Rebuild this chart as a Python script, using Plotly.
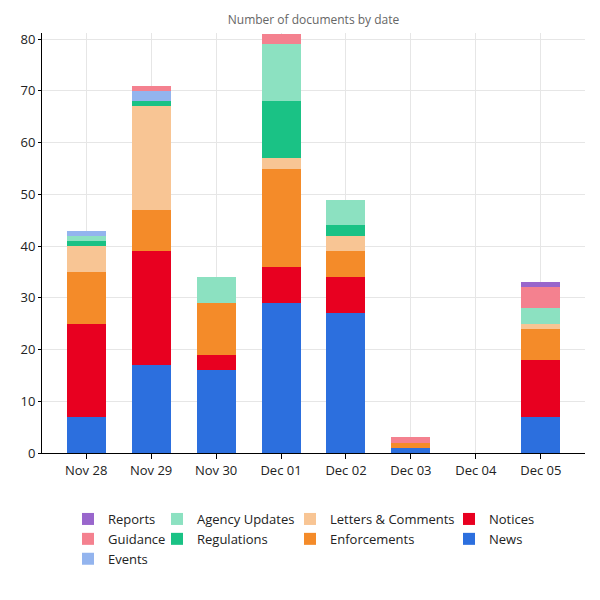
import plotly.graph_objects as go

dates = ["Nov 28", "Nov 29", "Nov 30", "Dec 01", "Dec 02", "Dec 03", "Dec 04", "Dec 05"]

news = [7, 17, 16, 29, 27, 1, 0, 7]
notices = [18, 22, 3, 7, 7, 0, 0, 11]
enforcements = [10, 8, 10, 19, 5, 1, 0, 6]
letters = [5, 20, 0, 2, 3, 0, 0, 1]
regulations = [1, 1, 0, 11, 2, 0, 0, 0]
agency_updates = [1, 0, 5, 11, 5, 0, 0, 3]
events = [1, 2, 0, 0, 0, 0, 0, 0]
guidance = [0, 1, 0, 2, 0, 1, 0, 4]
reports = [0, 0, 0, 0, 0, 0, 0, 1]

# (name, values, colour, legend column, rank in column)
series = [
    ("News", news, "#2C6FDE", "legend4", 2),
    ("Notices", notices, "#E80020", "legend4", 1),
    ("Enforcements", enforcements, "#F48B29", "legend3", 2),
    ("Letters & Comments", letters, "#F8C594", "legend3", 1),
    ("Regulations", regulations, "#1AC285", "legend2", 2),
    ("Agency Updates", agency_updates, "#8CE1C1", "legend2", 1),
    ("Events", events, "#93B4EE", "legend", 3),
    ("Guidance", guidance, "#F4818F", "legend", 2),
    ("Reports", reports, "#9966CC", "legend", 1),
]

fig = go.Figure()
for name, vals, color, leg, rank in series:
    fig.add_trace(go.Bar(
        x=dates, y=vals, name=name, marker_color=color,
        marker_line_width=0, legend=leg, legendrank=rank,
    ))

legend_lefts = [68, 157, 290, 449]
legend_common = dict(orientation="v", xref="container", yref="container",
                     xanchor="left", yanchor="top", y=1 - 504 / 600,
                     font=dict(size=13, color="#222"), bgcolor="rgba(0,0,0,0)",
                     tracegroupgap=0, traceorder="normal")

fig.update_layout(
    barmode="stack",
    bargap=0.4,
    width=600, height=600,
    margin=dict(l=42, r=15, t=33, b=147, autoexpand=False),
    paper_bgcolor="white", plot_bgcolor="white",
    font=dict(family="Open Sans, sans-serif", size=13, color="#222"),
    title=dict(text="Number of documents by date", x=0.5, xref="paper", xanchor="center",
               y=1 - 20 / 600, yref="container", yanchor="middle",
               font=dict(size=12, color="#666")),
    legend=dict(x=legend_lefts[0] / 600, **legend_common),
    legend2=dict(x=legend_lefts[1] / 600, **legend_common),
    legend3=dict(x=legend_lefts[2] / 600, **legend_common),
    legend4=dict(x=legend_lefts[3] / 600, **legend_common),
    showlegend=True,
)
fig.update_xaxes(
    type="category", range=[-0.68, 7.68],
    showline=True, linecolor="black", linewidth=1,
    ticks="outside", tickcolor="black", ticklen=5,
    showgrid=True, gridcolor="#e6e6e6",
)
fig.update_yaxes(
    range=[0, 81.2], dtick=10,
    showline=True, linecolor="black", linewidth=1,
    ticks="outside", tickcolor="black", ticklen=3,
    showgrid=True, gridcolor="#e6e6e6", zeroline=False,
)

fig.write_html("out.html", config={"displayModeBar": False},
               post_script="document.body.style.margin='0';")
